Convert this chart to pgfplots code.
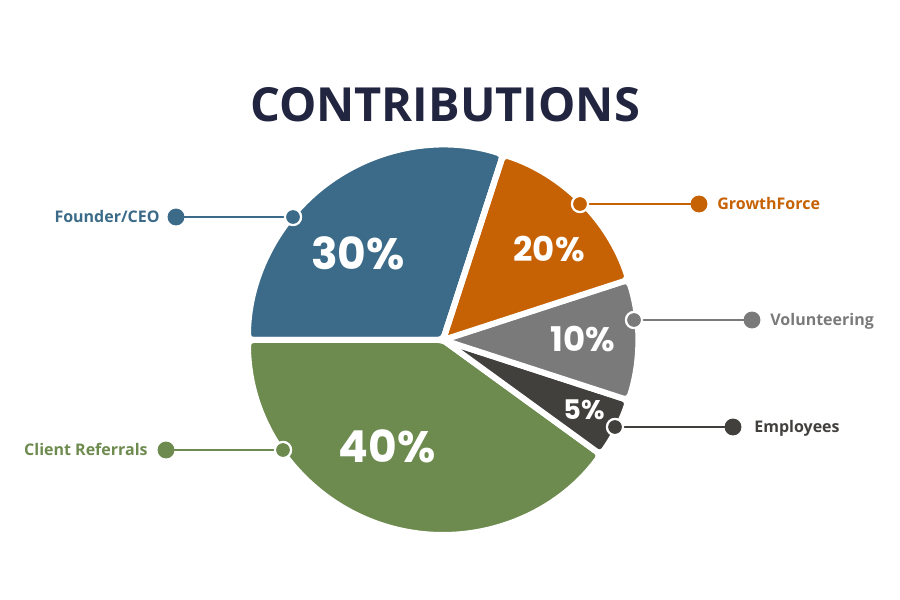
\documentclass[border=0pt]{standalone}
\usepackage{pgfplots}
\pgfplotsset{compat=1.18}
\usepackage{fontspec}
\setmainfont{Open Sans}
\newfontfamily\osans{Open Sans}
\newfontfamily\pop{Poppins}
\definecolor{blueC}{HTML}{3B6B88}
\definecolor{orangeC}{HTML}{C66104}
\definecolor{grayC}{HTML}{7A7A7A}
\definecolor{darkC}{HTML}{42403C}
\definecolor{greenC}{HTML}{6E8B4F}
\definecolor{titleC}{HTML}{22253F}
% drawn shares (percent of the full circle), counter-clockwise from 72 degrees
\def\sBlue{30}\def\sGreen{40}\def\sDark{5}\def\sGray{10}\def\sOrange{15}
\pgfmathsetmacro\aBlue{72}
\pgfmathsetmacro\aGreen{\aBlue+3.6*\sBlue}
\pgfmathsetmacro\aDark{\aGreen+3.6*\sGreen}
\pgfmathsetmacro\aGray{\aDark+3.6*\sDark}
\pgfmathsetmacro\aOrange{\aGray+3.6*\sGray}
\pgfmathsetmacro\aEnd{\aOrange+3.6*\sOrange}
\def\R{195}
\begin{document}
\begin{tikzpicture}
\begin{axis}[
  x=0.5pt, y=0.5pt,
  xmin=-443, xmax=457, ymin=-260, ymax=340,
  enlargelimits=false, hide axis, clip=false,
]
\path (axis cs:-443,-260) rectangle (axis cs:457,340);
\tikzset{wedge/.style={line width=3pt, draw=white, rounded corners=2.5pt, line join=round}}
\fill[wedge, fill=blueC] (axis cs:0,0) -- (axis cs:{\R*cos(\aBlue)},{\R*sin(\aBlue)}) arc[start angle=\aBlue, end angle=\aGreen, radius=97.5pt] -- cycle;
\fill[wedge, fill=greenC] (axis cs:0,0) -- (axis cs:{\R*cos(\aGreen)},{\R*sin(\aGreen)}) arc[start angle=\aGreen, end angle=\aDark, radius=97.5pt] -- cycle;
\fill[wedge, fill=darkC] (axis cs:0,0) -- (axis cs:{\R*cos(\aDark)},{\R*sin(\aDark)}) arc[start angle=\aDark, end angle=\aGray, radius=97.5pt] -- cycle;
\fill[wedge, fill=grayC] (axis cs:0,0) -- (axis cs:{\R*cos(\aGray)},{\R*sin(\aGray)}) arc[start angle=\aGray, end angle=\aOrange, radius=97.5pt] -- cycle;
\fill[wedge, fill=orangeC] (axis cs:0,0) -- (axis cs:{\R*cos(\aOrange)},{\R*sin(\aOrange)}) arc[start angle=\aOrange, end angle=\aEnd, radius=97.5pt] -- cycle;
\draw[wedge, fill=none] (axis cs:0,0) -- (axis cs:{\R*cos(\aBlue)},{\R*sin(\aBlue)});
% connectors
\addplot[blueC, line width=1.2pt, mark=*, mark size=3.6pt, mark indices={2}] coordinates {(-150,123) (-267,123)};
\addplot[orangeC, line width=1.2pt, mark=*, mark size=3.6pt, mark indices={2}] coordinates {(137,136) (256,136)};
\addplot[grayC, line width=1.2pt, mark=*, mark size=3.6pt, mark indices={2}] coordinates {(191,20) (309,20)};
\addplot[darkC, line width=1.2pt, mark=*, mark size=3.6pt, mark indices={2}] coordinates {(172,-87) (290,-87)};
\addplot[greenC, line width=1.2pt, mark=*, mark size=3.6pt, mark indices={2}] coordinates {(-160,-110) (-277,-110)};
% inner dots: white ring then coloured dot
\addplot[white, only marks, mark=*, mark size=4.4pt, mark options={draw=none, fill=white}] coordinates {(-150,123) (137,136) (191,20) (172,-87) (-160,-110)};
\addplot[blueC, only marks, mark=*, mark size=3.2pt, mark options={draw=none, fill=blueC}] coordinates {(-150,123)};
\addplot[orangeC, only marks, mark=*, mark size=3.2pt, mark options={draw=none, fill=orangeC}] coordinates {(137,136)};
\addplot[grayC, only marks, mark=*, mark size=3.2pt, mark options={draw=none, fill=grayC}] coordinates {(191,20)};
\addplot[darkC, only marks, mark=*, mark size=3.2pt, mark options={draw=none, fill=darkC}] coordinates {(172,-87)};
\addplot[greenC, only marks, mark=*, mark size=3.2pt, mark options={draw=none, fill=greenC}] coordinates {(-160,-110)};
% labels
\node[anchor=base east, inner sep=0pt, text=blueC, font=\osans\bfseries\fontsize{8pt}{10pt}\selectfont] at (axis cs:-283,117) {Founder/CEO};
\node[anchor=base east, inner sep=0pt, text=greenC, font=\osans\bfseries\fontsize{8pt}{10pt}\selectfont] at (axis cs:-295,-116) {Client Referrals};
\node[anchor=base west, inner sep=0pt, text=orangeC, font=\osans\bfseries\fontsize{8pt}{10pt}\selectfont] at (axis cs:274,130) {GrowthForce};
\node[anchor=base west, inner sep=0pt, text=grayC, font=\osans\bfseries\fontsize{8pt}{10pt}\selectfont] at (axis cs:327,14) {Volunteering};
\node[anchor=base west, inner sep=0pt, text=darkC, font=\osans\bfseries\fontsize{8pt}{10pt}\selectfont] at (axis cs:311,-93) {Employees};
% title
\node[anchor=base, inner sep=0pt, text=titleC, font=\osans\bfseries\fontsize{23.5pt}{26pt}\selectfont] at (axis cs:2,218) {CONTRIBUTIONS};
% percentages
\node[anchor=base, inner sep=0pt, text=white, font=\pop\bfseries\fontsize{22pt}{24pt}\selectfont] at (axis cs:-85,70) {30\%};
\node[anchor=base, inner sep=0pt, text=white, font=\pop\bfseries\fontsize{17pt}{20pt}\selectfont] at (axis cs:106,78) {20\%};
\node[anchor=base, inner sep=0pt, text=white, font=\pop\bfseries\fontsize{17pt}{20pt}\selectfont] at (axis cs:140,-12) {10\%};
\node[anchor=base, inner sep=0pt, text=white, font=\pop\bfseries\fontsize{13.5pt}{16pt}\selectfont] at (axis cs:141,-80) {5\%};
\node[anchor=base, inner sep=0pt, text=white, font=\pop\bfseries\fontsize{22pt}{24pt}\selectfont] at (axis cs:-56,-123) {40\%};
\end{axis}
\end{tikzpicture}
\end{document}
